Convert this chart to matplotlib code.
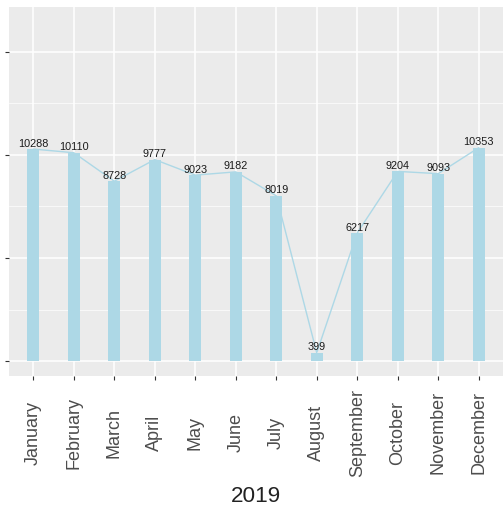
import matplotlib
matplotlib.use("Agg")
import matplotlib.pyplot as plt
import numpy as np

plt.rcParams['font.family'] = ['Liberation Sans', 'DejaVu Sans']

months = ["January", "February", "March", "April", "May", "June", "July",
          "August", "September", "October", "November", "December"]
counts = [10288, 10110, 8728, 9777, 9023, 9182, 8019, 399, 6217, 9204, 9093, 10353]
xlabel = "2019"

fig = plt.figure(figsize=(5.03, 5.10), dpi=100)
ax = fig.add_axes([9/503, 1 - 377/510, 494/503, 369/510])

ax.set_facecolor('#EBEBEB')
x = np.arange(len(months))
ax.bar(x, counts, 0.3, color='#ADD8E6', zorder=2)
ax.plot(x, counts, color='#ADD8E6', lw=1.0, zorder=3)
for xi, v in zip(x, counts):
    ax.annotate(str(v), (xi, v), xytext=(0, 1), textcoords='offset points',
                ha='center', va='bottom', fontsize=7.8, color='#1a1a1a', zorder=4)

ax.set_xlim(-0.6, 11.6)
ax.set_ylim(-728, 17184)
ax.set_xticks(x)
# ggplot-style: rotated labels centred along their length
ax.set_xticklabels(months, rotation=90, fontsize=13, color='#4D4D4D',
                   rotation_mode='anchor', ha='center', va='center')
ax.set_yticks([0, 5000, 10000, 15000])
ax.set_yticklabels([])
ax.set_yticks([2500, 7500, 12500], minor=True)
ax.grid(which='major', color='white', lw=1.1, zorder=0)
ax.grid(which='minor', axis='y', color='white', lw=0.5, zorder=0)
ax.tick_params(which='major', length=3, color='#333333', width=0.8)
ax.tick_params(axis='x', which='major', pad=37)
ax.tick_params(which='minor', length=0)
ax.set_axisbelow(True)
for s in ax.spines.values():
    s.set_visible(False)
ax.set_xlabel(xlabel, fontsize=16.2, color='#222222', labelpad=7)

fig.savefig("out.png", dpi=100)
